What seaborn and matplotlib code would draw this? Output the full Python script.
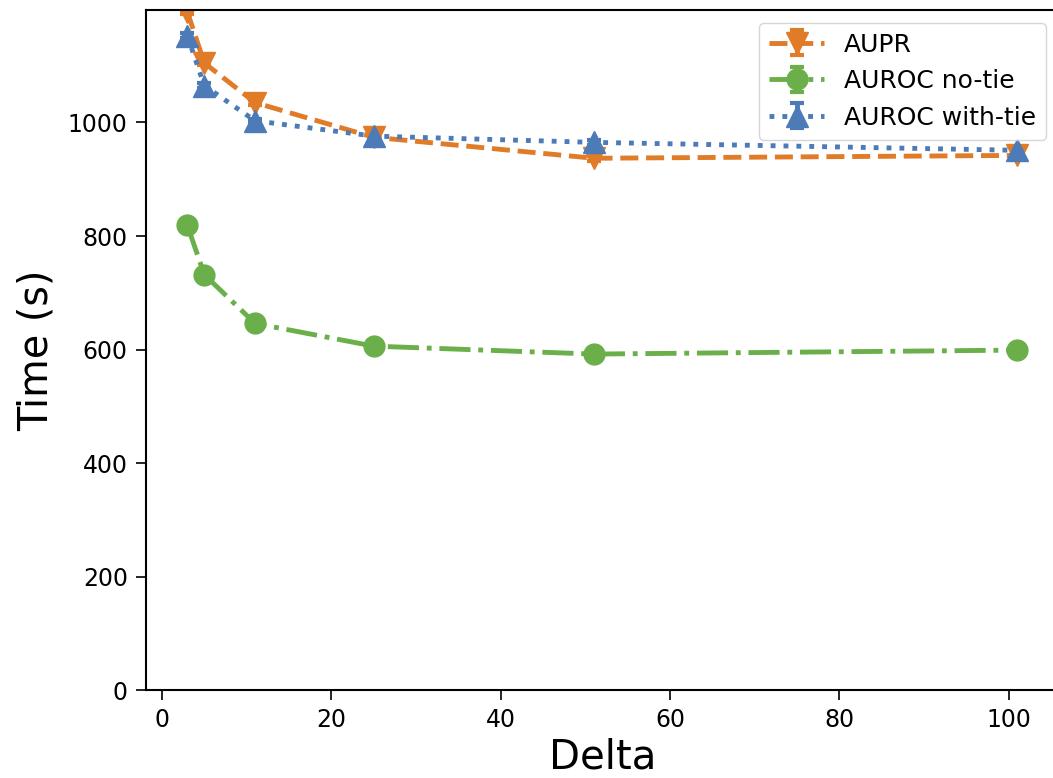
import numpy as np
import seaborn as sns
from matplotlib import pyplot as plt

#%% # data

delta = [3, 5, 11, 25, 51, 101]
aupr = [1195, 1105, 1035, 974, 937, 942]
auroc_notie = [819, 732, 646, 606, 592, 599]
auroc_tie = [1153, 1065, 1003, 976, 965, 951]
err = [4, 4, 4, 4, 4, 4]

#%% # plot

sns.set_theme(style='ticks')
plt.rcParams['font.family'] = ['DejaVu Sans']
plt.rcParams['text.color'] = 'black'
plt.rcParams['axes.labelcolor'] = 'black'
plt.rcParams['xtick.color'] = 'black'
plt.rcParams['ytick.color'] = 'black'

fig = plt.figure(figsize=(10.53, 7.78), dpi=100)
ax = fig.add_axes([0.1385, 0.113, 0.867, 0.874])

ax.errorbar(delta, aupr, yerr=err, color='#e07b28', linestyle='--', lw=3.5,
            marker='v', markersize=16, capsize=5, capthick=3, label='AUPR')
ax.errorbar(delta, auroc_notie, yerr=err, color='#6aaf4a', linestyle='-.', lw=3.5,
            marker='o', markersize=15, capsize=5, capthick=3, label='AUROC no-tie')
ax.errorbar(delta, auroc_tie, yerr=err, color='#4c7bb8', linestyle=':', lw=3.5,
            marker='^', markersize=16, capsize=5, capthick=3, label='AUROC with-tie')

ax.set_xlim(-1.9, 105.9)
ax.set_ylim(0, 1198)
ax.set_xticks([0, 20, 40, 60, 80, 100])
ax.set_yticks([0, 200, 400, 600, 800, 1000])
ax.tick_params(labelsize=17, length=7, width=1.2, pad=6)
for s in ax.spines.values():
    s.set_color('black')
    s.set_linewidth(1.5)

ax.set_xlabel('Delta', fontsize=29, labelpad=4)
ax.set_ylabel('Time (s)', fontsize=28.6, labelpad=8)
ax.legend(loc='upper right', fontsize=18, frameon=True, borderaxespad=0.5,
          handlelength=2.2)

plt.savefig('out.png', dpi=100)
